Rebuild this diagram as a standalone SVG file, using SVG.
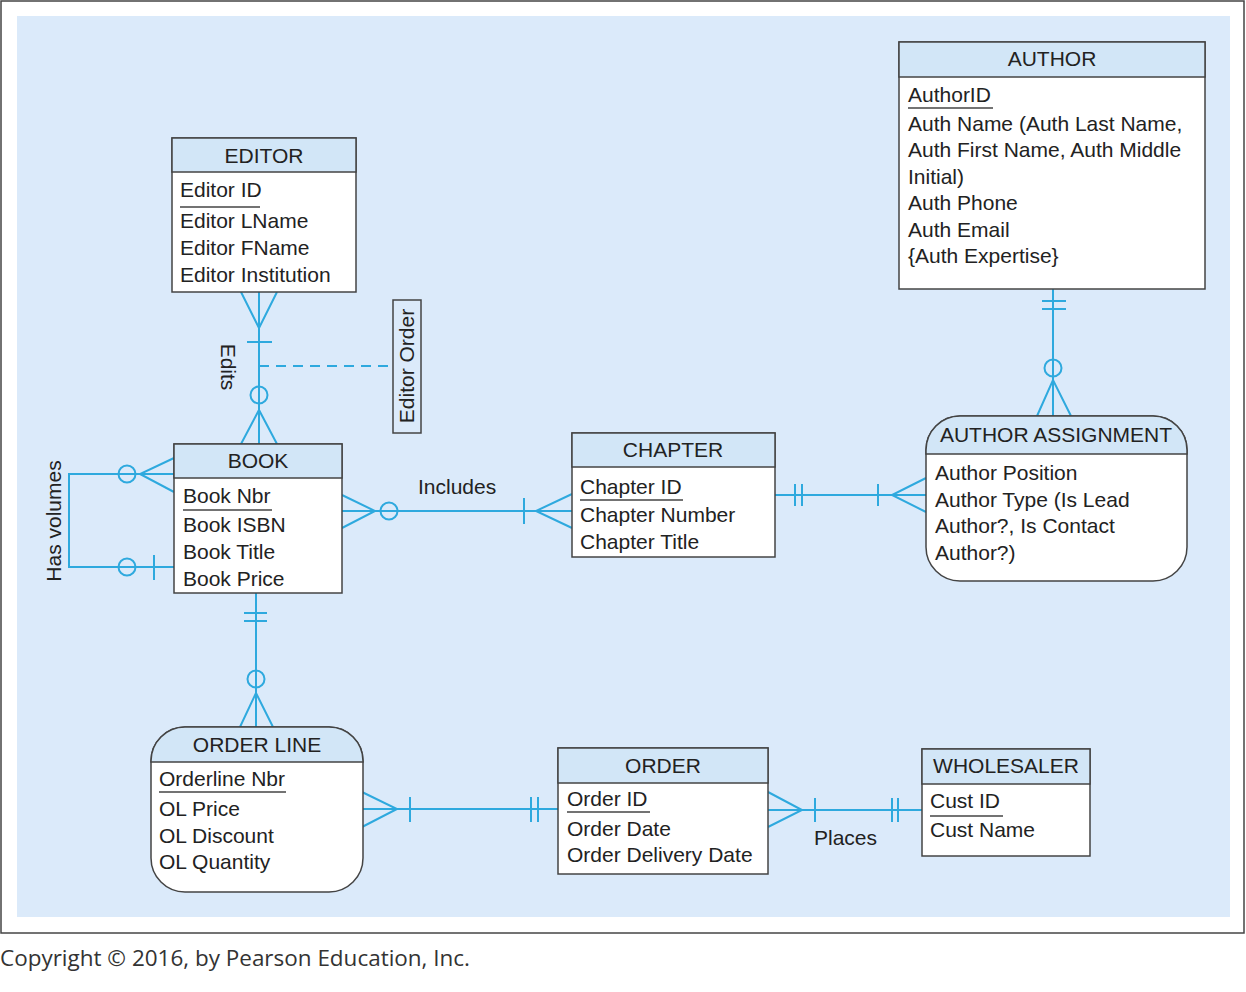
<svg xmlns="http://www.w3.org/2000/svg" width="1246" height="992" viewBox="0 0 1246 992">
<style>
.t{font-family:"Liberation Sans",Arial,sans-serif;font-size:21px;fill:#222}
.h{text-anchor:middle}
.box{fill:#fff;stroke:#444;stroke-width:1.5}
.hdr{fill:#d2e6f7;stroke:#444;stroke-width:1.5}
.ul{stroke:#444;stroke-width:1.5}
.c{fill:none;stroke:#2ea9de;stroke-width:2}
.d{fill:none;stroke:#2ea9de;stroke-width:2;stroke-dasharray:10,7}
</style>
<rect x="1" y="1" width="1243" height="932" fill="#fff" stroke="#444" stroke-width="1.5"/>
<rect x="17" y="16" width="1213" height="901" fill="#dbeafa"/>

<g id="connectors">
  <!-- EDITOR - BOOK -->
  <path class="c" d="M259 292V444 M241 292L259 328L277 292 M247 342H272 M241 444L259 410L277 444"/>
  <circle class="c" cx="259" cy="395" r="8.5" fill="#dbeafa"/>
  <path class="d" d="M259 366H393"/>
  <!-- Has volumes -->
  <path class="c" d="M174 474H69V567H174 M174 458L140 474L174 492 M154 555V580"/>
  <circle class="c" cx="127" cy="474" r="8.5" fill="#dbeafa"/>
  <circle class="c" cx="127" cy="567" r="8.5" fill="#dbeafa"/>
  <!-- BOOK - CHAPTER -->
  <path class="c" d="M342 511H572 M342 495L375 511L342 528 M572 494L536 511L572 528 M524 498V524"/>
  <circle class="c" cx="389" cy="511" r="8.5" fill="#dbeafa"/>
  <!-- CHAPTER - AUTHOR ASSIGNMENT -->
  <path class="c" d="M775 495H926 M795 484V506 M802 484V506 M878 484V506 M926 478L892 495L926 512"/>
  <!-- AUTHOR - AUTHOR ASSIGNMENT -->
  <path class="c" d="M1053 289V416 M1042 301H1066 M1042 309H1066 M1037 416L1053 380L1071 416"/>
  <circle class="c" cx="1053" cy="368" r="8.5" fill="#dbeafa"/>
  <!-- BOOK - ORDER LINE -->
  <path class="c" d="M256 593V727 M244 613H267 M244 621H267 M240 727L256 693L273 727"/>
  <circle class="c" cx="256" cy="679" r="8.5" fill="#dbeafa"/>
  <!-- ORDER LINE - ORDER -->
  <path class="c" d="M362 809H558 M362 792L397 809L362 827 M410 797V822 M531 797V822 M538 797V822"/>
  <!-- ORDER - WHOLESALER -->
  <path class="c" d="M768 810H922 M768 792L802 810L768 827 M815 798V822 M892 798V822 M898 798V822"/>
</g>

<g id="labels">
  <text class="t h" transform="translate(228,367) rotate(90)" dy="0.35em">Edits</text>
  <text class="t h" transform="translate(54,521) rotate(-90)" dy="0.35em">Has volumes</text>
  <text class="t" x="418" y="494">Includes</text>
  <text class="t" x="814" y="845">Places</text>
</g>

<g id="editor-order">
  <rect x="393" y="300" width="28" height="133" fill="#dbeafa" stroke="#444" stroke-width="1.5"/>
  <text class="t h" transform="translate(407,366) rotate(-90)" dy="0.35em">Editor Order</text>
</g>

<g id="editor">
  <rect class="box" x="172" y="138" width="184" height="154"/>
  <rect class="hdr" x="172" y="138" width="184" height="34"/>
  <text class="t h" x="264" y="163">EDITOR</text>
  <text class="t" x="180" y="197">Editor ID</text>
  <line class="ul" x1="180" y1="207" x2="260" y2="207"/>
  <text class="t" x="180" y="228">Editor LName</text>
  <text class="t" x="180" y="255">Editor FName</text>
  <text class="t" x="180" y="282">Editor Institution</text>
</g>

<g id="book">
  <rect class="box" x="174" y="444" width="168" height="149"/>
  <rect class="hdr" x="174" y="444" width="168" height="34"/>
  <text class="t h" x="258" y="468">BOOK</text>
  <text class="t" x="183" y="503">Book Nbr</text>
  <line class="ul" x1="183" y1="510" x2="272" y2="510"/>
  <text class="t" x="183" y="532">Book ISBN</text>
  <text class="t" x="183" y="559">Book Title</text>
  <text class="t" x="183" y="586">Book Price</text>
</g>

<g id="chapter">
  <rect class="box" x="572" y="433" width="203" height="124"/>
  <rect class="hdr" x="572" y="433" width="203" height="34"/>
  <text class="t h" x="673" y="457">CHAPTER</text>
  <text class="t" x="580" y="494">Chapter ID</text>
  <line class="ul" x1="580" y1="500" x2="683" y2="500"/>
  <text class="t" x="580" y="522">Chapter Number</text>
  <text class="t" x="580" y="549">Chapter Title</text>
</g>

<g id="author">
  <rect class="box" x="899" y="42" width="306" height="247"/>
  <rect class="hdr" x="899" y="42" width="306" height="35"/>
  <text class="t h" x="1052" y="66">AUTHOR</text>
  <text class="t" x="908" y="102">AuthorID</text>
  <line class="ul" x1="908" y1="108" x2="993" y2="108"/>
  <text class="t" x="908" y="131">Auth Name (Auth Last Name,</text>
  <text class="t" x="908" y="157">Auth First Name, Auth Middle</text>
  <text class="t" x="908" y="184">Initial)</text>
  <text class="t" x="908" y="210">Auth Phone</text>
  <text class="t" x="908" y="237">Auth Email</text>
  <text class="t" x="908" y="263">{Auth Expertise}</text>
</g>

<g id="author-assignment">
  <rect x="926" y="416" width="261" height="165" rx="34" fill="#fff" stroke="#444" stroke-width="1.5"/>
  <path d="M926 454V450A34 34 0 0 1 960 416H1153A34 34 0 0 1 1187 450V454Z" fill="#d2e6f7" stroke="#444" stroke-width="1.5"/>
  <text class="t h" x="1056" y="442">AUTHOR ASSIGNMENT</text>
  <text class="t" x="935" y="480">Author Position</text>
  <text class="t" x="935" y="507">Author Type (Is Lead</text>
  <text class="t" x="935" y="533">Author?, Is Contact</text>
  <text class="t" x="935" y="560">Author?)</text>
</g>

<g id="order-line">
  <rect x="151" y="727" width="212" height="165" rx="34" fill="#fff" stroke="#444" stroke-width="1.5"/>
  <path d="M151 762V761A34 34 0 0 1 185 727H329A34 34 0 0 1 363 761V762Z" fill="#d2e6f7" stroke="#444" stroke-width="1.5"/>
  <text class="t h" x="257" y="752">ORDER LINE</text>
  <text class="t" x="159" y="786">Orderline Nbr</text>
  <line class="ul" x1="159" y1="792" x2="286" y2="792"/>
  <text class="t" x="159" y="816">OL Price</text>
  <text class="t" x="159" y="843">OL Discount</text>
  <text class="t" x="159" y="869">OL Quantity</text>
</g>

<g id="order">
  <rect class="box" x="558" y="748" width="210" height="126"/>
  <rect class="hdr" x="558" y="748" width="210" height="35"/>
  <text class="t h" x="663" y="773">ORDER</text>
  <text class="t" x="567" y="806">Order ID</text>
  <line class="ul" x1="567" y1="812" x2="650" y2="812"/>
  <text class="t" x="567" y="836">Order Date</text>
  <text class="t" x="567" y="862">Order Delivery Date</text>
</g>

<g id="wholesaler">
  <rect class="box" x="922" y="749" width="168" height="107"/>
  <rect class="hdr" x="922" y="749" width="168" height="35"/>
  <text class="t h" x="1006" y="773">WHOLESALER</text>
  <text class="t" x="930" y="808">Cust ID</text>
  <line class="ul" x1="930" y1="816" x2="1003" y2="816"/>
  <text class="t" x="930" y="837">Cust Name</text>
</g>

<text x="0" y="966" font-family="'Open Sans','Noto Sans',sans-serif" font-size="22" fill="#333" textLength="470" lengthAdjust="spacingAndGlyphs">Copyright © 2016, by Pearson Education, Inc.</text>
</svg>
